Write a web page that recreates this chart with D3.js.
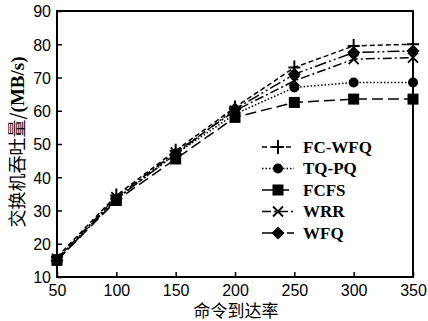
<!DOCTYPE html>
<html>
<head>
<meta charset="utf-8">
<script src="https://cdn.jsdelivr.net/npm/d3@7"></script>
<style>
body { margin: 0; background: #fff; }
</style>
</head>
<body>
<script>
// 数据
var rates = [50, 100, 150, 200, 250, 300, 350];
var fcwfq = [16, 34.5, 48, 61, 73, 79.5, 80];
var tqpq = [15.5, 33.5, 47, 59, 67, 68.5, 68.5];
var fcfs = [15, 33, 45.5, 58, 62.5, 63.5, 63.5];
var wrr = [15.5, 34, 47.5, 60, 69, 75.5, 76];
var wfq = [15, 33.5, 47, 60.5, 71, 77.5, 78];
var names = ["FC-WFQ", "TQ-PQ", "FCFS", "WRR", "WFQ"];
var yTicks = [10, 20, 30, 40, 50, 60, 70, 80, 90];

var w = 428, h = 321;
var pLeft = 57, pRight = 413, pTop = 11, pBottom = 277;

var series = [
  { name: names[0], vals: fcwfq, dash: "5,3", marker: "plus" },
  { name: names[1], vals: tqpq, dash: "1.5,2", marker: "circle" },
  { name: names[2], vals: fcfs, dash: "11,5", marker: "square" },
  { name: names[3], vals: wrr, dash: "9,3,2,3", marker: "cross" },
  { name: names[4], vals: wfq, dash: "12,3,2,3,2,3", marker: "diamond" }
];

var svg = d3.select("body").append("svg")
  .attr("width", w).attr("height", h);

var x = d3.scaleLinear().domain([50, 350]).range([pLeft, pRight]);
var y = d3.scaleLinear().domain([10, 90]).range([pBottom, pTop]);

// 坐标轴
var xAxis = d3.axisBottom(x).tickValues(rates).tickSizeInner(-5).tickSizeOuter(0).tickPadding(8);
var yAxis = d3.axisLeft(y).tickValues(yTicks).tickSizeInner(-5).tickSizeOuter(0).tickPadding(6);

var gx = svg.append("g").attr("transform", "translate(0," + pBottom + ")").call(xAxis);
var gy = svg.append("g").attr("transform", "translate(" + pLeft + ",0)").call(yAxis);
[gx, gy].forEach(function(g) {
  g.select(".domain").remove();
  g.selectAll("line").attr("stroke", "#000").attr("stroke-width", 1.5);
  g.selectAll("text").attr("font-family", "Liberation Sans, Arial, sans-serif")
    .attr("font-size", "16px").attr("fill", "#000");
});
gy.selectAll("text").attr("dy", "0.36em");

// 边框
svg.append("rect")
  .attr("x", pLeft).attr("y", pTop)
  .attr("width", pRight - pLeft).attr("height", pBottom - pTop)
  .attr("fill", "none").attr("stroke", "#000").attr("stroke-width", 2);

function drawMarker(g, type, cx, cy) {
  if (type == "plus") {
    g.append("path").attr("d", "M" + (cx - 6) + "," + cy + "H" + (cx + 6) + "M" + cx + "," + (cy - 7) + "V" + (cy + 7))
      .attr("stroke", "#000").attr("stroke-width", 2);
  } else if (type == "circle") {
    g.append("circle").attr("cx", cx).attr("cy", cy).attr("r", 5).attr("fill", "#000");
  } else if (type == "square") {
    g.append("rect").attr("x", cx - 5.5).attr("y", cy - 5.5).attr("width", 11).attr("height", 11).attr("fill", "#000");
  } else if (type == "cross") {
    g.append("path").attr("d", "M" + (cx - 5) + "," + (cy - 5) + "L" + (cx + 5) + "," + (cy + 5) + "M" + (cx + 5) + "," + (cy - 5) + "L" + (cx - 5) + "," + (cy + 5))
      .attr("stroke", "#000").attr("stroke-width", 1.8);
  } else if (type == "diamond") {
    g.append("path").attr("d", "M" + cx + "," + (cy - 6.5) + "L" + (cx + 6.5) + "," + cy + "L" + cx + "," + (cy + 6.5) + "L" + (cx - 6.5) + "," + cy + "Z")
      .attr("fill", "#000");
  }
}

var line = d3.line()
  .x(function(d, i) { return x(rates[i]); })
  .y(function(d) { return y(d); });

series.forEach(function(s) {
  svg.append("path").datum(s.vals)
    .attr("d", line)
    .attr("fill", "none").attr("stroke", "#000")
    .attr("stroke-width", 1.5).attr("stroke-dasharray", s.dash);
});
series.forEach(function(s) {
  var g = svg.append("g");
  s.vals.forEach(function(v, i) { drawMarker(g, s.marker, x(rates[i]), y(v)); });
});

// 图例
var legY0 = 147, legStep = 21.5;
series.forEach(function(s, i) {
  var ly = legY0 + i * legStep;
  var g = svg.append("g");
  g.append("line").attr("x1", 262).attr("x2", 294).attr("y1", ly).attr("y2", ly)
    .attr("stroke", "#000").attr("stroke-width", 1.5).attr("stroke-dasharray", s.dash);
  drawMarker(g, s.marker, 278, ly);
  g.append("text").attr("x", 303).attr("y", ly).attr("dy", "0.35em")
    .attr("font-family", "Liberation Serif, Times New Roman, serif")
    .attr("font-weight", "bold").attr("font-size", "17px")
    .text(s.name);
});

// 轴标题
svg.append("text")
  .attr("x", 236).attr("y", 317)
  .attr("text-anchor", "middle")
  .attr("font-family", "Noto Sans CJK SC, sans-serif")
  .attr("font-size", "17px")
  .text("命令到达率");

var yl = svg.append("text")
  .attr("transform", "translate(24," + ((pTop + pBottom) / 2 - 2) + ") rotate(-90)")
  .attr("text-anchor", "middle");
yl.append("tspan")
  .attr("font-family", "Noto Sans CJK SC, sans-serif")
  .attr("font-size", "18px")
  .text("交换机吞吐量/");
yl.append("tspan")
  .attr("font-family", "Liberation Serif, serif")
  .attr("font-weight", "bold")
  .attr("font-size", "19px")
  .text("(MB/s)");
</script>
</body>
</html>
